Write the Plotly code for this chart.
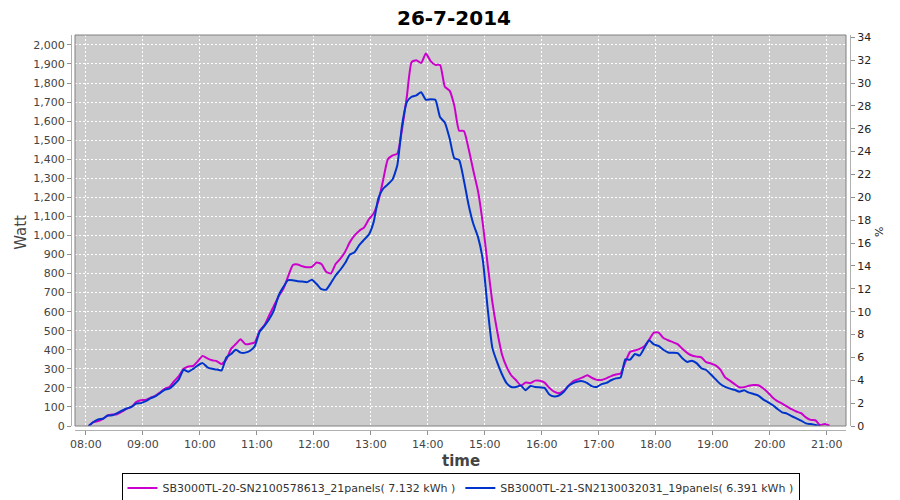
import pandas as pd
import plotly.graph_objects as go

# 5-minute samples, 08:03 .. 21:03
times = pd.date_range("2014-07-26 08:03", periods=157, freq="5min")

inv20_watt = [
    0, 20, 26, 38, 55, 60, 62, 75, 90, 100, 125, 135,
    137, 148, 158, 175, 195, 205, 235, 262, 300, 312, 315, 340,
    368, 355, 345, 340, 325, 350, 405, 430, 455, 430, 432, 440,
    500, 528, 580, 630, 680, 720, 785, 845, 848, 838, 833, 835,
    858, 850, 810, 800, 850, 878, 915, 965, 1000, 1025, 1042, 1085,
    1115, 1180, 1290, 1400, 1420, 1430, 1560, 1730, 1910, 1920, 1905, 1955,
    1915, 1895, 1895, 1780, 1760, 1680, 1550, 1548, 1455, 1340, 1230, 1060,
    850, 650, 500, 378, 310, 265, 240, 212, 228, 225, 238, 238,
    228, 200, 180, 172, 185, 210, 235, 245, 255, 266, 252, 242,
    242, 250, 262, 270, 276, 336, 389, 396, 405, 418, 452, 490,
    490, 462, 450, 440, 430, 405, 384, 370, 364, 360, 335, 328,
    318, 296, 255, 238, 220, 203, 204, 211, 215, 214, 198, 176,
    150, 131, 118, 103, 88, 76, 67, 45, 32, 30, 5, 10,
    2,
]

inv21_watt = [
    0, 21, 35, 38, 55, 56, 68, 80, 92, 100, 118, 120,
    130, 145, 155, 172, 190, 196, 218, 245, 295, 285, 300, 318,
    330, 308, 300, 296, 292, 360, 378, 400, 385, 385, 395, 420,
    495, 525, 560, 607, 685, 730, 765, 765, 760, 758, 755, 768,
    745, 718, 715, 750, 790, 820, 855, 900, 912, 950, 978, 1005,
    1070, 1195, 1245, 1268, 1295, 1370, 1580, 1700, 1728, 1735, 1752, 1712,
    1715, 1712, 1620, 1592, 1510, 1405, 1396, 1290, 1160, 1060, 990, 870,
    620, 410, 335, 273, 225, 205, 205, 212, 188, 210, 205, 203,
    200, 165, 155, 160, 178, 210, 225, 234, 235, 225, 208, 205,
    220, 226, 240, 250, 255, 350, 348, 378, 370, 410, 450, 428,
    420, 400, 386, 384, 382, 355, 336, 343, 330, 303, 294, 270,
    245, 220, 205, 196, 190, 180, 187, 175, 168, 160, 140, 125,
    110, 90, 72, 65, 52, 40, 28, 14, 10, 5, 0, None,
    None,
]

series_names = [
    "SB3000TL-20-SN2100578613_21panels( 7.132 kWh )",
    "SB3000TL-21-SN2130032031_19panels( 6.391 kWh )",
]
series_colors = ["#cc00cc", "#0033cc"]

FONT = "DejaVu Sans"
TICK = dict(family=FONT, size=11, color="#444444")

fig = go.Figure()
for name, vals, color in zip(series_names, [inv20_watt, inv21_watt], series_colors):
    fig.add_trace(go.Scatter(x=times, y=vals, mode="lines", name=name,
                             line=dict(color=color, width=2, shape="spline", smoothing=0.5)))
# dummy trace so the % axis is drawn
fig.add_trace(go.Scatter(x=[times[0]], y=[0], yaxis="y2", mode="markers",
                         marker=dict(opacity=0), showlegend=False, hoverinfo="skip"))

# the page body has an 8px margin, so the figure is 892x492 and sits at (8, 8)
W, H = 779, 395
fig.update_layout(
    width=892, height=492,
    margin=dict(l=63, r=50, t=27, b=70, autoexpand=False),
    paper_bgcolor="white",
    plot_bgcolor="#cccccc",
    title=dict(text="<b>26-7-2014</b>", x=0.5, xanchor="center", y=0.993, yanchor="top",
               pad=dict(t=0, b=0), font=dict(family=FONT, size=20, color="black")),
    xaxis=dict(
        type="date", domain=[4 / W, 1 - 4 / W],
        anchor="free", position=0, automargin=False,
        range=["2014-07-26 07:48:40", "2014-07-26 21:20:15"],
        dtick=3600000, tickformat="%H:%M", tick0="2014-07-26 08:00",
        showgrid=True, gridcolor="white", griddash="2px,2px", gridwidth=1,
        showline=True, linecolor="#b0b0b0", ticks="outside", ticklen=4, tickcolor="#909090",
        tickfont=TICK, zeroline=False,
    ),
    yaxis=dict(
        domain=[4 / H, 1], anchor="free", position=0, automargin=False,
        range=[0, 2052], dtick=100, tickformat=",d",
        showgrid=True, gridcolor="white", griddash="2px,2px", gridwidth=1,
        showline=True, linecolor="#b0b0b0", ticks="outside", ticklen=4, tickcolor="#909090",
        tickfont=TICK, zeroline=False,
    ),
    yaxis2=dict(
        overlaying="y", side="right", anchor="free", position=1, automargin=False,
        range=[0, 34.2], dtick=2, showgrid=False, zeroline=False,
        showline=True, linecolor="#b0b0b0", ticks="outside", ticklen=4, tickcolor="#909090",
        tickfont=dict(family=FONT, size=11, color="#222222"),
    ),
    legend=dict(
        orientation="h", x=0.5, xanchor="center", y=-0.147, yanchor="middle",
        bordercolor="black", borderwidth=1, bgcolor="white",
        font=dict(family=FONT, size=11, color="#333333"),
        itemwidth=30,
    ),
    shapes=[dict(type="rect", xref="x domain", yref="y domain", x0=0, x1=1, y0=0, y1=1,
                 line=dict(color="#808080", width=1))],
    annotations=[
        dict(text="<b>time</b>", xref="paper", yref="paper", x=0.5, y=-0.078,
             xanchor="center", yanchor="middle",
             showarrow=False, font=dict(family=FONT, size=15, color="#444444")),
        dict(text="Watt", xref="paper", yref="paper", x=-0.065, y=0.5, textangle=-90,
             xanchor="center", yanchor="middle",
             showarrow=False, font=dict(family=FONT, size=15, color="#444444")),
        dict(text="%", xref="paper", yref="paper", x=1.038, y=0.5, textangle=-90,
             xanchor="center", yanchor="middle",
             showarrow=False, font=dict(family=FONT, size=11, color="#222222")),
    ],
)

fig.write_html("out.html")
